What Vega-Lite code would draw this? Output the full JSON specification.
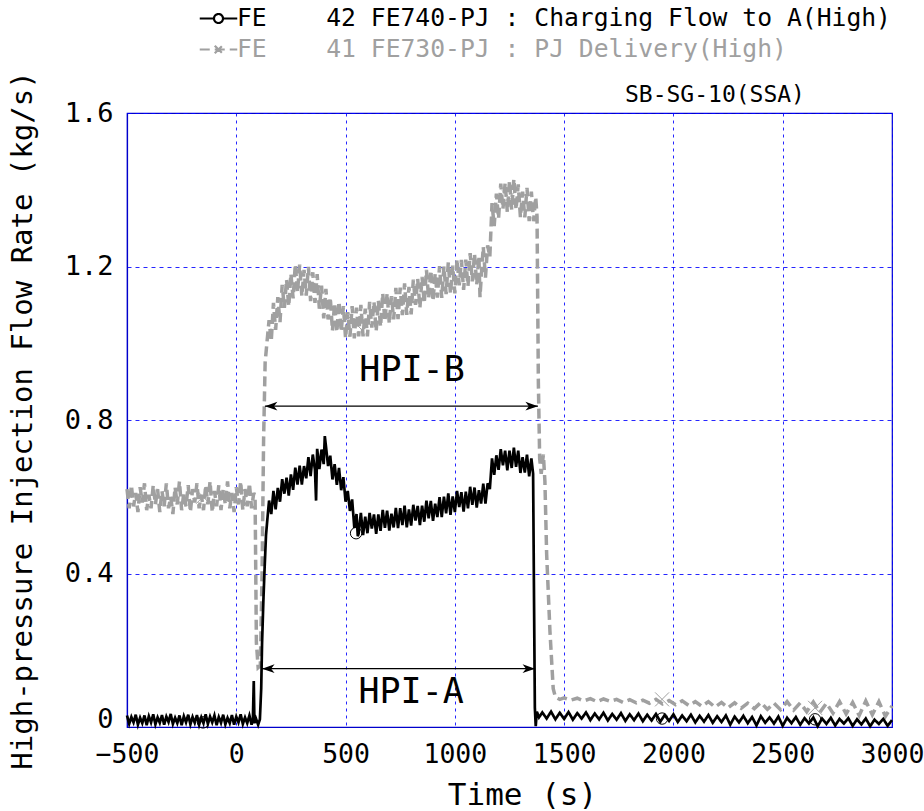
{
  "$schema": "https://vega.github.io/schema/vega-lite/v6.json",
  "width": 765,
  "height": 614,
  "autosize": {"type": "none"},
  "padding": {"left": 127, "top": 113, "right": 32, "bottom": 84},
  "background": "white",
  "config": {
    "view": {"stroke": "#0000cc", "strokeWidth": 1.2},
    "axis": {
      "labelFont": "DejaVu Sans Mono", "titleFont": "DejaVu Sans Mono", "labelColor": "#000", "titleColor": "#000",
      "titleFontWeight": "normal", "domainColor": "#0000cc", "domainWidth": 1.2, "gridColor": "#0000ff", "gridWidth": 1, "gridOpacity": 0.85, "ticks": false
    }
  },
  "datasets": {
    "fe42": [
      {"t":-500,"v":0.03},{"t":-490,"v":0.008},{"t":-480,"v":0.026},{"t":-470,"v":0.012},{"t":-460,"v":0.032},{"t":-450,"v":0.006},{"t":-440,"v":0.024},{"t":-430,"v":0.01},{"t":-420,"v":0.03},{"t":-410,"v":0.005},{"t":-400,"v":0.028},{"t":-390,"v":0.012},{"t":-380,"v":0.033},{"t":-370,"v":0.007},{"t":-360,"v":0.025},{"t":-350,"v":0.011},{"t":-340,"v":0.031},{"t":-330,"v":0.006},{"t":-320,"v":0.027},{"t":-310,"v":0.013},{"t":-300,"v":0.034},{"t":-290,"v":0.008},{"t":-280,"v":0.024},{"t":-270,"v":0.01},{"t":-260,"v":0.03},{"t":-250,"v":0.005},{"t":-240,"v":0.028},{"t":-230,"v":0.012},{"t":-220,"v":0.032},{"t":-210,"v":0.007},{"t":-200,"v":0.026},{"t":-190,"v":0.011},{"t":-180,"v":0.031},{"t":-170,"v":0.006},{"t":-160,"v":0.025},{"t":-150,"v":0.01},{"t":-140,"v":0.033},{"t":-130,"v":0.008},{"t":-120,"v":0.027},{"t":-110,"v":0.012},{"t":-100,"v":0.03},{"t":-90,"v":0.005},{"t":-80,"v":0.026},{"t":-70,"v":0.011},{"t":-60,"v":0.032},{"t":-50,"v":0.007},{"t":-40,"v":0.024},{"t":-30,"v":0.01},{"t":-20,"v":0.031},{"t":-10,"v":0.006},{"t":0,"v":0.027},{"t":10,"v":0.012},{"t":20,"v":0.033},{"t":30,"v":0.008},{"t":40,"v":0.025},{"t":50,"v":0.01},{"t":60,"v":0.03},{"t":70,"v":0.006},{"t":76,"v":0.02},{"t":80,"v":0.12},{"t":83,"v":0.01},{"t":90,"v":0.022},{"t":100,"v":0.006},{"t":108,"v":0.02},{"t":114,"v":0.10},{"t":118,"v":0.22},{"t":124,"v":0.33},{"t":130,"v":0.42},{"t":136,"v":0.50},{"t":142,"v":0.54},
      {"t":150,"v":0.59},{"t":160,"v":0.555},{"t":170,"v":0.615},{"t":180,"v":0.567},{"t":190,"v":0.623},{"t":200,"v":0.587},{"t":210,"v":0.646},{"t":220,"v":0.608},{"t":230,"v":0.65},{"t":240,"v":0.603},{"t":250,"v":0.658},{"t":260,"v":0.618},{"t":270,"v":0.676},{"t":280,"v":0.632},{"t":290,"v":0.681},{"t":300,"v":0.632},{"t":310,"v":0.68},{"t":320,"v":0.648},{"t":330,"v":0.703},{"t":340,"v":0.654},{"t":350,"v":0.71},{"t":360,"v":0.67},{"t":365,"v":0.59},{"t":370,"v":0.725},{"t":380,"v":0.672},{"t":390,"v":0.723},{"t":400,"v":0.685},{"t":405,"v":0.758},{"t":410,"v":0.733},{"t":420,"v":0.68},{"t":430,"v":0.707},{"t":440,"v":0.645},{"t":450,"v":0.685},{"t":460,"v":0.631},{"t":470,"v":0.675},{"t":480,"v":0.617},{"t":490,"v":0.651},{"t":500,"v":0.587},{"t":510,"v":0.615},{"t":520,"v":0.563},{"t":530,"v":0.593},{"t":540,"v":0.519},{"t":550,"v":0.555},{"t":556,"v":0.497},{"t":560,"v":0.505},{"t":570,"v":0.558},{"t":580,"v":0.50},{"t":590,"v":0.548},{"t":600,"v":0.505},{"t":610,"v":0.558},{"t":620,"v":0.517},{"t":630,"v":0.554},{"t":640,"v":0.503},{"t":650,"v":0.554},{"t":660,"v":0.511},{"t":670,"v":0.566},{"t":680,"v":0.519},{"t":690,"v":0.564},{"t":700,"v":0.512},{"t":710,"v":0.556},{"t":720,"v":0.52},{"t":730,"v":0.571},{"t":740,"v":0.518},{"t":750,"v":0.57},{"t":760,"v":0.526},{"t":770,"v":0.577},{"t":780,"v":0.52},{"t":790,"v":0.567},{"t":800,"v":0.525},{"t":810,"v":0.579},{"t":820,"v":0.538},{"t":830,"v":0.576},{"t":840,"v":0.526},{"t":850,"v":0.577},{"t":860,"v":0.535},{"t":870,"v":0.59},{"t":880,"v":0.544},{"t":890,"v":0.589},{"t":900,"v":0.537},{"t":910,"v":0.582},{"t":920,"v":0.547},{"t":930,"v":0.599},{"t":940,"v":0.547},{"t":950,"v":0.60},{"t":960,"v":0.557},{"t":970,"v":0.609},{"t":980,"v":0.553},{"t":990,"v":0.601},{"t":1000,"v":0.56},{"t":1010,"v":0.615},{"t":1020,"v":0.573},{"t":1030,"v":0.612},{"t":1040,"v":0.561},{"t":1050,"v":0.613},{"t":1060,"v":0.57},{"t":1070,"v":0.626},{"t":1080,"v":0.579},{"t":1090,"v":0.624},{"t":1100,"v":0.572},{"t":1110,"v":0.617},{"t":1120,"v":0.582},{"t":1130,"v":0.634},{"t":1140,"v":0.582},{"t":1150,"v":0.635},{"t":1160,"v":0.62},{"t":1170,"v":0.70},{"t":1180,"v":0.657},{"t":1190,"v":0.708},{"t":1200,"v":0.67},{"t":1210,"v":0.724},{"t":1220,"v":0.682},{"t":1230,"v":0.72},{"t":1240,"v":0.669},{"t":1250,"v":0.72},{"t":1260,"v":0.675},{"t":1270,"v":0.728},{"t":1280,"v":0.678},{"t":1290,"v":0.72},{"t":1300,"v":0.662},{"t":1310,"v":0.703},{"t":1320,"v":0.663},{"t":1330,"v":0.71},{"t":1340,"v":0.653},{"t":1350,"v":0.70},{"t":1358,"v":0.66},{"t":1362,"v":0.35},{"t":1366,"v":0.05},{"t":1370,"v":0.002},{"t":1375,"v":0.04},{"t":1385,"v":0.025},
      {"t":1400,"v":0.038},{"t":1420,"v":0.022},{"t":1440,"v":0.04},{"t":1460,"v":0.02},{"t":1480,"v":0.037},{"t":1500,"v":0.021},{"t":1520,"v":0.039},{"t":1540,"v":0.019},{"t":1560,"v":0.036},{"t":1580,"v":0.022},{"t":1600,"v":0.038},{"t":1620,"v":0.018},{"t":1640,"v":0.035},{"t":1660,"v":0.02},{"t":1680,"v":0.037},{"t":1700,"v":0.017},{"t":1720,"v":0.034},{"t":1740,"v":0.019},{"t":1760,"v":0.036},{"t":1780,"v":0.016},{"t":1800,"v":0.033},{"t":1820,"v":0.018},{"t":1840,"v":0.035},{"t":1860,"v":0.015},{"t":1880,"v":0.032},{"t":1900,"v":0.017},{"t":1920,"v":0.034},{"t":1940,"v":0.014},{"t":1960,"v":0.031},{"t":1980,"v":0.016},{"t":2000,"v":0.033},{"t":2020,"v":0.013},{"t":2040,"v":0.03},{"t":2060,"v":0.015},{"t":2080,"v":0.032},{"t":2100,"v":0.012},{"t":2120,"v":0.029},{"t":2140,"v":0.014},{"t":2160,"v":0.031},{"t":2180,"v":0.011},{"t":2200,"v":0.028},{"t":2220,"v":0.013},{"t":2240,"v":0.03},{"t":2260,"v":0.006},{"t":2280,"v":0.027},{"t":2300,"v":0.012},{"t":2320,"v":0.029},{"t":2340,"v":0.01},{"t":2360,"v":0.026},{"t":2380,"v":0.004},{"t":2400,"v":0.028},{"t":2420,"v":0.011},{"t":2440,"v":0.025},{"t":2460,"v":0.009},{"t":2480,"v":0.027},{"t":2500,"v":0.003},{"t":2520,"v":0.024},{"t":2540,"v":0.01},{"t":2560,"v":0.026},{"t":2580,"v":0.006},{"t":2600,"v":0.023},{"t":2620,"v":0.009},{"t":2640,"v":0.025},{"t":2660,"v":0.002},{"t":2680,"v":0.022},{"t":2700,"v":0.008},{"t":2720,"v":0.024},{"t":2740,"v":0.004},{"t":2760,"v":0.021},{"t":2780,"v":0.009},{"t":2800,"v":0.023},{"t":2820,"v":0.003},{"t":2840,"v":0.02},{"t":2860,"v":0.007},{"t":2880,"v":0.022},{"t":2900,"v":0.002},{"t":2920,"v":0.019},{"t":2940,"v":0.008},{"t":2960,"v":0.021},{"t":2980,"v":0.003},{"t":3000,"v":0.018}
    ],
    "fe41": [
      {"t":-500,"v":0.62},{"t":-490,"v":0.57},{"t":-480,"v":0.63},{"t":-470,"v":0.575},{"t":-460,"v":0.61},{"t":-450,"v":0.56},{"t":-440,"v":0.625},{"t":-430,"v":0.585},{"t":-420,"v":0.635},{"t":-410,"v":0.565},{"t":-400,"v":0.605},{"t":-390,"v":0.57},{"t":-380,"v":0.63},{"t":-370,"v":0.58},{"t":-360,"v":0.62},{"t":-350,"v":0.56},{"t":-340,"v":0.615},{"t":-330,"v":0.575},{"t":-320,"v":0.635},{"t":-310,"v":0.57},{"t":-300,"v":0.60},{"t":-290,"v":0.555},{"t":-280,"v":0.625},{"t":-270,"v":0.58},{"t":-260,"v":0.64},{"t":-250,"v":0.565},{"t":-240,"v":0.61},{"t":-230,"v":0.575},{"t":-220,"v":0.63},{"t":-210,"v":0.56},{"t":-200,"v":0.62},{"t":-190,"v":0.585},{"t":-180,"v":0.635},{"t":-170,"v":0.57},{"t":-160,"v":0.605},{"t":-150,"v":0.565},{"t":-140,"v":0.63},{"t":-130,"v":0.58},{"t":-120,"v":0.64},{"t":-110,"v":0.56},{"t":-100,"v":0.615},{"t":-90,"v":0.575},{"t":-80,"v":0.63},{"t":-70,"v":0.565},{"t":-60,"v":0.62},{"t":-50,"v":0.58},{"t":-40,"v":0.64},{"t":-30,"v":0.57},{"t":-20,"v":0.61},{"t":-10,"v":0.56},{"t":0,"v":0.625},{"t":10,"v":0.58},{"t":20,"v":0.64},{"t":30,"v":0.565},{"t":40,"v":0.62},{"t":50,"v":0.575},{"t":60,"v":0.635},{"t":70,"v":0.57},{"t":80,"v":0.61},{"t":86,"v":0.60},{"t":92,"v":0.22},{"t":100,"v":0.155},{"t":110,"v":0.16},{"t":118,"v":0.40},{"t":125,"v":0.75},{"t":132,"v":0.95},{"t":140,"v":1.00},
      {"t":150,"v":1.06},{"t":160,"v":1.005},{"t":170,"v":1.105},{"t":180,"v":1.035},{"t":190,"v":1.12},{"t":200,"v":1.055},{"t":210,"v":1.152},{"t":220,"v":1.092},{"t":230,"v":1.166},{"t":240,"v":1.096},{"t":250,"v":1.181},{"t":260,"v":1.117},{"t":270,"v":1.206},{"t":280,"v":1.133},{"t":290,"v":1.205},{"t":300,"v":1.123},{"t":310,"v":1.191},{"t":320,"v":1.124},{"t":330,"v":1.199},{"t":340,"v":1.11},{"t":350,"v":1.185},{"t":360,"v":1.105},{"t":370,"v":1.18},{"t":380,"v":1.09},{"t":390,"v":1.15},{"t":400,"v":1.065},{"t":410,"v":1.142},{"t":420,"v":1.062},{"t":430,"v":1.119},{"t":440,"v":1.033},{"t":450,"v":1.105},{"t":460,"v":1.029},{"t":470,"v":1.109},{"t":480,"v":1.03},{"t":490,"v":1.097},{"t":500,"v":1.013},{"t":510,"v":1.081},{"t":520,"v":1.017},{"t":530,"v":1.097},{"t":540,"v":1.013},{"t":550,"v":1.093},{"t":560,"v":1.018},{"t":570,"v":1.10},{"t":580,"v":1.018},{"t":590,"v":1.09},{"t":600,"v":1.018},{"t":610,"v":1.108},{"t":620,"v":1.041},{"t":630,"v":1.108},{"t":640,"v":1.031},{"t":650,"v":1.111},{"t":660,"v":1.043},{"t":670,"v":1.13},{"t":680,"v":1.057},{"t":690,"v":1.13},{"t":700,"v":1.051},{"t":710,"v":1.123},{"t":720,"v":1.062},{"t":730,"v":1.144},{"t":740,"v":1.063},{"t":750,"v":1.145},{"t":760,"v":1.073},{"t":770,"v":1.156},{"t":780,"v":1.074},{"t":790,"v":1.147},{"t":800,"v":1.075},{"t":810,"v":1.166},{"t":820,"v":1.10},{"t":830,"v":1.168},{"t":840,"v":1.092},{"t":850,"v":1.173},{"t":860,"v":1.104},{"t":870,"v":1.191},{"t":880,"v":1.117},{"t":890,"v":1.19},{"t":900,"v":1.11},{"t":910,"v":1.182},{"t":920,"v":1.119},{"t":930,"v":1.201},{"t":940,"v":1.118},{"t":950,"v":1.20},{"t":960,"v":1.128},{"t":970,"v":1.211},{"t":980,"v":1.129},{"t":990,"v":1.202},{"t":1000,"v":1.13},{"t":1010,"v":1.219},{"t":1020,"v":1.151},{"t":1030,"v":1.217},{"t":1040,"v":1.139},{"t":1050,"v":1.218},{"t":1060,"v":1.149},{"t":1070,"v":1.235},{"t":1080,"v":1.161},{"t":1090,"v":1.233},{"t":1100,"v":1.153},{"t":1110,"v":1.227},{"t":1115,"v":1.12},{"t":1120,"v":1.167},{"t":1130,"v":1.251},{"t":1140,"v":1.171},{"t":1150,"v":1.255},{"t":1160,"v":1.225},{"t":1170,"v":1.365},{"t":1180,"v":1.305},{"t":1190,"v":1.39},{"t":1200,"v":1.325},{"t":1210,"v":1.416},{"t":1220,"v":1.35},{"t":1230,"v":1.418},{"t":1240,"v":1.342},{"t":1250,"v":1.423},{"t":1260,"v":1.348},{"t":1270,"v":1.428},{"t":1280,"v":1.348},{"t":1290,"v":1.414},{"t":1300,"v":1.328},{"t":1310,"v":1.395},{"t":1320,"v":1.328},{"t":1330,"v":1.405},{"t":1340,"v":1.318},{"t":1350,"v":1.395},{"t":1360,"v":1.318},{"t":1370,"v":1.381},{"t":1376,"v":1.33},
      {"t":1382,"v":0.9},{"t":1388,"v":0.70},{"t":1395,"v":0.66},{"t":1405,"v":0.71},{"t":1412,"v":0.64},{"t":1420,"v":0.45},{"t":1435,"v":0.25},{"t":1450,"v":0.10},{"t":1460,"v":0.078},
      {"t":1480,"v":0.072},{"t":1500,"v":0.076},{"t":1530,"v":0.070},{"t":1560,"v":0.075},{"t":1590,"v":0.068},{"t":1620,"v":0.074},{"t":1650,"v":0.066},{"t":1680,"v":0.073},{"t":1710,"v":0.067},{"t":1740,"v":0.072},{"t":1770,"v":0.064},{"t":1800,"v":0.071},{"t":1830,"v":0.063},{"t":1860,"v":0.070},{"t":1890,"v":0.062},{"t":1920,"v":0.072},{"t":1950,"v":0.060},{"t":1980,"v":0.069},{"t":2010,"v":0.058},{"t":2040,"v":0.068},{"t":2070,"v":0.056},{"t":2100,"v":0.066},{"t":2130,"v":0.054},{"t":2160,"v":0.066},{"t":2190,"v":0.052},{"t":2220,"v":0.064},{"t":2250,"v":0.050},{"t":2280,"v":0.063},{"t":2310,"v":0.049},{"t":2340,"v":0.062},{"t":2370,"v":0.048},{"t":2400,"v":0.064},{"t":2430,"v":0.046},{"t":2460,"v":0.062},{"t":2490,"v":0.045},{"t":2520,"v":0.066},{"t":2550,"v":0.044},{"t":2580,"v":0.063},{"t":2610,"v":0.040},{"t":2640,"v":0.065},{"t":2670,"v":0.038},{"t":2700,"v":0.062},{"t":2730,"v":0.036},{"t":2760,"v":0.066},{"t":2790,"v":0.034},{"t":2820,"v":0.064},{"t":2850,"v":0.030},{"t":2880,"v":0.068},{"t":2910,"v":0.032},{"t":2940,"v":0.066},{"t":2970,"v":0.028},{"t":3000,"v":0.055}
    ],
    "m42": [{"t":-152,"v":0.012},{"t":548,"v":0.505},{"t":1948,"v":0.022},{"t":2648,"v":0.02}],
    "m41": [{"t":-152,"v":0.6},{"t":548,"v":1.05},{"t":1248,"v":1.38},{"t":1948,"v":0.072},{"t":2648,"v":0.05}],
    "arrows": [{"v":0.836,"x1":131,"x2":1380},{"v":0.152,"x1":118,"x2":1367}],
    "notes": [{"t":804,"v":0.93,"label":"HPI-B"},{"t":800,"v":0.09,"label":"HPI-A"}],
    "caption": [{"t":2190,"v":1.647,"label":"SB-SG-10(SSA)"}]
  },
  "encoding": {
    "x": {"field": "t", "type": "quantitative", "scale": {"domain": [-500, 3000], "nice": false, "zero": false},
      "axis": {"title": "Time (s)", "format": "d", "values": [-500,0,500,1000,1500,2000,2500,3000], "labelFontSize": 26.5, "titleFontSize": 31, "labelPadding": 14, "labelFlush": false, "titleX": 395, "titleY": 68, "titleBaseline": "middle", "gridDash": [3,4]}},
    "y": {"field": "v", "type": "quantitative", "scale": {"domain": [0, 1.6], "nice": false},
      "axis": {"title": "High-pressure Injection Flow Rate (kg/s)", "values": [0,0.4,0.8,1.2,1.6], "labelExpr": "datum.value == 0 ? '0' : format(datum.value, '.1f')", "labelFontSize": 27, "labelOffset": {"condition": {"test": "datum.value == 0", "value": -8}, "value": 0}, "titleFontSize": 29, "labelPadding": 14, "titleX": -105, "titleBaseline": "middle", "gridDash": [4,4]}}
  },
  "layer": [
    {
      "data": {"name": "fe41"},
      "mark": {"type": "line", "strokeWidth": 3.5, "interpolate": "linear"},
      "encoding": {
        "color": {"datum": "B", "scale": {"domain": ["A","B"], "range": ["#000000","#a0a0a0"]}, "title": null,
          "legend": {"orient": "none", "legendX": 75, "legendY": -111, "direction": "vertical", "padding": 0, "rowPadding": 2, "symbolSize": 900, "labelOffset": 2, "labelFontSize": 24.7, "labelFont": "DejaVu Sans Mono", "labelLimit": 900,
            "labelExpr": "datum.value === 'A' ? 'FE\u00a0\u00a0\u00a0\u00a042 FE740-PJ : Charging Flow to A(High)' : 'FE\u00a0\u00a0\u00a0\u00a041 FE730-PJ : PJ Delivery(High)'",
            "encode": {
              "symbols": {"update": {
                "shape": {"signal": "datum.value === 'A' ? 'M-1.25,0H-0.3M0.3,0H1.25M-0.3,0A0.3,0.3 0 1,1 0.3,0A0.3,0.3 0 1,1 -0.3,0' : 'M-1.25,0H1.25M-0.25,-0.25L0.25,0.25M-0.25,0.25L0.25,-0.25'"},
                "fill": {"value": "transparent"},
                "strokeWidth": {"value": 2.2},
                "strokeDash": {"signal": "datum.value === 'A' ? [1,0] : [6,4]"}
              }},
              "labels": {"update": {"fill": {"signal": "datum.value === 'A' ? '#000000' : '#a0a0a0'"}}}
            }}},
        "strokeDash": {"datum": "B", "scale": {"domain": ["A","B"], "range": [[1,0],[10,5]]}, "title": null}
      }
    },
    {
      "data": {"name": "fe42"},
      "mark": {"type": "line", "strokeWidth": 2.7, "interpolate": "linear"},
      "encoding": {
        "color": {"datum": "A"},
        "strokeDash": {"datum": "A"}
      }
    },
    {
      "data": {"name": "m42"},
      "mark": {"type": "point", "shape": "circle", "size": 130, "filled": false, "stroke": "#000000", "strokeWidth": 1, "opacity": 1}
    },
    {
      "data": {"name": "m41"},
      "mark": {"type": "point", "shape": "M-1,-1L1,1M-1,1L1,-1", "size": 196, "filled": false, "stroke": "#a0a0a0", "strokeWidth": 1, "opacity": 1}
    },
    {
      "data": {"name": "arrows"},
      "mark": {"type": "rule", "color": "#000000", "strokeWidth": 1.3},
      "encoding": {"x": {"field": "x1", "type": "quantitative"}, "x2": {"field": "x2"}, "y": {"field": "v", "type": "quantitative"}}
    },
    {
      "data": {"name": "arrows"},
      "mark": {"type": "point", "shape": "M0,0L2,-0.7L1.45,0L2,0.7Z", "size": 156, "filled": true, "color": "#000000", "opacity": 1},
      "encoding": {"x": {"field": "x1", "type": "quantitative"}, "y": {"field": "v", "type": "quantitative"}}
    },
    {
      "data": {"name": "arrows"},
      "mark": {"type": "point", "shape": "M0,0L-2,-0.7L-1.45,0L-2,0.7Z", "size": 156, "filled": true, "color": "#000000", "opacity": 1},
      "encoding": {"x": {"field": "x2", "type": "quantitative"}, "y": {"field": "v", "type": "quantitative"}}
    },
    {
      "data": {"name": "notes"},
      "mark": {"type": "text", "font": "DejaVu Sans Mono", "fontSize": 35, "align": "center", "baseline": "middle", "color": "#000000"},
      "encoding": {"text": {"field": "label"}}
    },
    {
      "data": {"name": "caption"},
      "mark": {"type": "text", "font": "DejaVu Sans Mono", "fontSize": 23, "align": "center", "baseline": "middle", "color": "#000000"},
      "encoding": {"text": {"field": "label"}}
    }
  ]
}
